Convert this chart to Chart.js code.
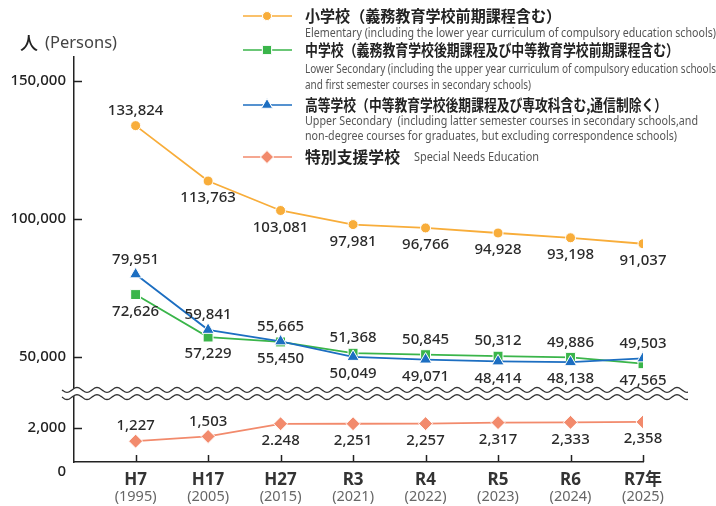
<!DOCTYPE html>
<html><head><meta charset="utf-8">
<script src="https://cdn.jsdelivr.net/npm/chart.js@4"></script>
<style>html,body{margin:0;padding:0;background:#fff}#wrap{width:716px;height:506px;position:relative}canvas{display:block}</style>
</head><body><div id="wrap"><canvas id="c" width="716" height="506"></canvas></div>
<script>
// ---- data ----
const categories = ['H7','H17','H27','R3','R4','R5','R6','R7年'];
const westernYears = ['(1995)','(2005)','(2015)','(2021)','(2022)','(2023)','(2024)','(2025)'];
const elementary = [133824,113763,103081,97981,96766,94928,93198,91037];
const lowerSecondary = [72626,57229,55450,51368,50845,50312,49886,47565];
const upperSecondary = [79951,59841,55665,50049,49071,48414,48138,49503];
const specialNeeds = [1227,1503,2248,2251,2257,2317,2333,2358];
const upperTicks = [50000,100000,150000];
const lowerTicks = [2000];
const seriesNames = [
  '小学校（義務教育学校前期課程含む）',
  '中学校（義務教育学校後期課程及び中等教育学校前期課程含む）',
  '高等学校（中等教育学校後期課程及び専攻科含む,通信制除く）',
  '特別支援学校'
];
const seriesNotes = [
  ['Elementary (including the lower year curriculum of compulsory education schools)'],
  ['Lower Secondary (including the upper year curriculum of compulsory education schools','and first semester courses in secondary schools)'],
  ['Upper Secondary  (including latter semester courses in secondary schools,and','non-degree courses for graduates, but excluding correspondence schools)'],
  ['Special Needs Education']
];
const unitLabel = '人';
const unitLabelEn = '(Persons)';
const specialLabelOverride = {2: '2.248'};

// ---- styles ----
const COL = {orange:'#F8AD3A', green:'#3AB54A', blue:'#1C6EC1', salmon:'#F28A6C'};
const FONT = '"Noto Sans", "Noto Sans CJK JP", sans-serif';
const CJK = '"Noto Sans CJK JP", "Noto Sans", sans-serif';
const fmt = v => v.toLocaleString('en-US');
const pts = arr => arr.map((v,i)=>({x:i, y:v}));

// label placement: a = above, b = below
const placement = {
  upper: ['a','a','a','b','b','b','b','a'],
  lower: ['b','b','b','a','a','a','a','b'],
  elem:  ['a','b','b','b','b','b','b','b'],
  spec:  ['a','a','b','b','b','b','b','b']
};

function textFit(ctx, text, x, y, w) {
  const m = ctx.measureText(text).width;
  ctx.save(); ctx.translate(x, y); ctx.scale(w / m, 1); ctx.fillText(text, 0, 0); ctx.restore();
}

const dataLabels = {
  id: 'dataLabels',
  afterDatasetsDraw(chart) {
    const ctx = chart.ctx;
    ctx.save();
    ctx.font = '500 15px ' + FONT; ctx.fillStyle = '#2a2a2a'; ctx.textAlign = 'center'; ctx.textBaseline = 'middle';
    chart.data.datasets.forEach((ds, di) => {
      const meta = chart.getDatasetMeta(di);
      meta.data.forEach((el, i) => {
        const above = placement[ds.key][i] === 'a';
        let txt = fmt(ds.data[i].y);
        if (ds.key === 'spec' && specialLabelOverride[i]) txt = specialLabelOverride[i];
        ctx.fillText(txt, el.x, el.y + (above ? -15 : 17));
      });
    });
    ctx.restore();
  }
};

const decor = {
  id: 'decor',
  afterDraw(chart) {
    const ctx = chart.ctx, ca = chart.chartArea;
    const xs = chart.scales.x, ys = chart.scales.y, y2 = chart.scales.y2;
    ctx.save();
    ctx.strokeStyle = '#222'; ctx.lineWidth = 1.5;
    // inward ticks
    [ys, y2].forEach(s => s.ticks.forEach(t => {
      const p = Math.round(s.getPixelForValue(t.value)) + 0.5;
      ctx.beginPath(); ctx.moveTo(ca.left, p); ctx.lineTo(ca.left + 8, p); ctx.stroke();
    }));
    xs.ticks.forEach(t => {
      const p = Math.round(xs.getPixelForValue(t.value)) + 0.5;
      ctx.beginPath(); ctx.moveTo(p, ca.bottom); ctx.lineTo(p, ca.bottom - 7); ctx.stroke();
    });
    // zero label
    ctx.font = '500 15px ' + FONT; ctx.fillStyle = '#222'; ctx.textAlign = 'right'; ctx.textBaseline = 'middle';
    ctx.fillText('0', ca.left - 8, y2.getPixelForValue(0) + 10);
    // western years
    ctx.font = '14.5px ' + FONT; ctx.fillStyle = '#666'; ctx.textAlign = 'center';
    westernYears.forEach((t, i) => ctx.fillText(t, xs.getPixelForValue(i), 497));
    // break band
    const yb = ys.bottom, x0 = 62, x1 = 688, amp = 2.4, per = 20, gap = 3.6;
    const wave = x => amp * Math.sin((x - x0) / per * 2 * Math.PI);
    ctx.beginPath();
    for (let x = x0; x <= x1; x++) ctx.lineTo(x, yb - gap + wave(x));
    for (let x = x1; x >= x0; x--) ctx.lineTo(x, yb + gap + wave(x));
    ctx.closePath(); ctx.fillStyle = '#fff'; ctx.fill();
    ctx.lineWidth = 1.3; ctx.strokeStyle = '#333';
    [-gap, gap].forEach(g => {
      ctx.beginPath();
      for (let x = x0; x <= x1; x++) ctx.lineTo(x, yb + g + wave(x));
      ctx.stroke();
    });
    // unit label
    ctx.textAlign = 'left'; ctx.fillStyle = '#222'; ctx.font = '500 18px ' + CJK;
    ctx.fillText(unitLabel, 20, 43);
    ctx.font = '16px ' + FONT; ctx.fillStyle = '#444';
    textFit(ctx, unitLabelEn, 45, 43, 72);
    // legend
    const rows = [
      {ds: 'elem', y: 16, w: 256, notes: [[33, 411]]},
      {ds: 'lower', y: 50, w: 374, notes: [[69, 411], [85, 226]]},
      {ds: 'upper', y: 105, w: 362, notes: [[121, 393], [136, 372]]},
      {ds: 'spec', y: 157, w: 95, notes: [[157, 125, 414]]}
    ];
    rows.forEach((r, k) => {
      const ds = chart.data.datasets.find(d => d.key === r.ds);
      ctx.strokeStyle = ds.borderColor; ctx.lineWidth = 1.6;
      ctx.beginPath(); ctx.moveTo(243, r.y); ctx.lineTo(292, r.y); ctx.stroke();
      ctx.fillStyle = ds.borderColor; ctx.strokeStyle = '#fff'; ctx.lineWidth = 1;
      Chart.helpers.drawPoint(ctx, {pointStyle: ds.pointStyle, radius: ds.pointRadius - 0.5, borderWidth: 1}, 267, r.y);
      ctx.fill(); ctx.stroke();
      ctx.fillStyle = '#222'; ctx.font = 'bold 15.5px ' + CJK; ctx.textBaseline = 'middle';
      textFit(ctx, seriesNames[k], 305, r.y, r.w);
      ctx.fillStyle = '#555'; ctx.font = '12.5px ' + FONT;
      r.notes.forEach((n, j) => textFit(ctx, seriesNotes[k][j], n[2] || 305, n[0], n[1]));
    });
    ctx.restore();
  }
};

const axisFont = {family: FONT, size: 15, weight: '500'};
new Chart(document.getElementById('c'), {
  type: 'line',
  data: {
    datasets: [
      {key:'upper', data: pts(upperSecondary), yAxisID:'y', borderColor: COL.blue, backgroundColor: COL.blue,
       pointStyle:'triangle', pointRadius:7, pointBorderColor:'#fff', pointBorderWidth:1, borderWidth:1.8},
      {key:'lower', data: pts(lowerSecondary), yAxisID:'y', borderColor: COL.green, backgroundColor: COL.green,
       pointStyle:'rect', pointRadius:7, pointBorderColor:'#fff', pointBorderWidth:1, borderWidth:1.8},
      {key:'elem', data: pts(elementary), yAxisID:'y', borderColor: COL.orange, backgroundColor: COL.orange,
       pointStyle:'circle', pointRadius:5, pointBorderColor:'#fff', pointBorderWidth:1, borderWidth:1.8},
      {key:'spec', data: pts(specialNeeds), yAxisID:'y2', borderColor: COL.salmon, backgroundColor: COL.salmon,
       pointStyle:'rectRot', pointRadius:7, pointBorderColor:'#fff', pointBorderWidth:1, borderWidth:1.8}
    ]
  },
  options: {
    responsive: false, animation: false, devicePixelRatio: 1,
    layout: {padding: {top: 57, right: 73, left: 0, bottom: 0}},
    plugins: {legend: {display: false}, tooltip: {enabled: false}},
    elements: {line: {tension: 0}},
    scales: {
      x: {type: 'linear', min: -0.85, max: 7,
          afterBuildTicks: s => { s.ticks = categories.map((_, i) => ({value: i})); },
          afterFit: s => { s.height = 44; },
          grid: {display: false, drawTicks: false},
          border: {display: true, color: '#222', width: 1.5},
          ticks: {callback: v => categories[v], autoSkip: false, maxRotation: 0, padding: 8,
                  color: '#333', font: {family: FONT, size: 17, weight: 'bold'}}},
      y2: {type: 'linear', position: 'left', stack: 'v', stackWeight: 68.5, min: 0, max: 4029,
          afterBuildTicks: s => { s.ticks = lowerTicks.map(v => ({value: v})); },
          afterFit: s => { s.width = 74; },
          grid: {display: false, drawTicks: false},
          border: {display: true, color: '#222', width: 1.5},
          ticks: {padding: 8, callback: v => fmt(v), color: '#222', font: axisFont}},
      y: {type: 'linear', position: 'left', stack: 'v', stackWeight: 336.5, min: 36775, max: 158696,
          afterBuildTicks: s => { s.ticks = upperTicks.map(v => ({value: v})); },
          afterFit: s => { s.width = 74; },
          grid: {display: false, drawTicks: false},
          border: {display: true, color: '#222', width: 1.5},
          ticks: {padding: 8, callback: v => fmt(v), color: '#222', font: axisFont}}
    }
  },
  plugins: [dataLabels, decor]
});
</script></body></html>
